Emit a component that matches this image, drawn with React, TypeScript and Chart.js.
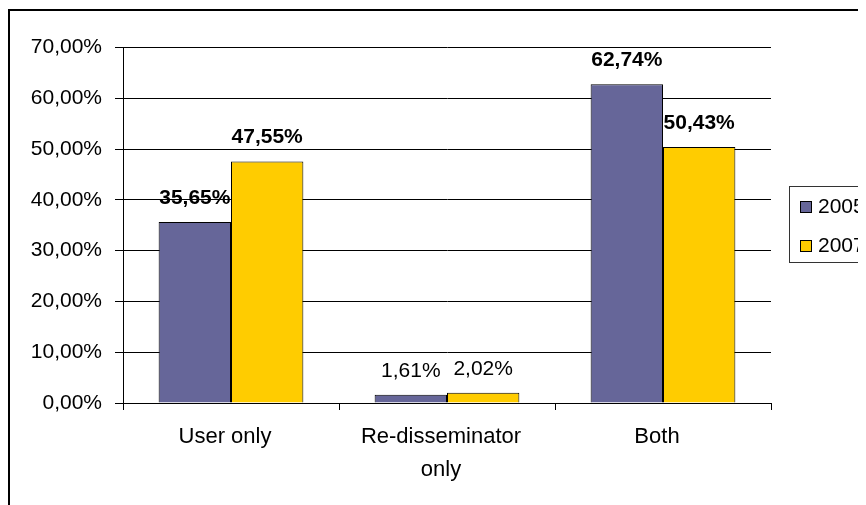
import React, { useEffect, useRef } from 'react';
import { Chart, registerables } from 'chart.js';

Chart.register(...registerables);

// ---- data ----
const categories: (string | string[])[] = ['User only', ['Re-disseminator', 'only'], 'Both'];
const seriesNames = ['2005', '2007'];
const values2005 = [35.65, 1.61, 62.74];
const values2007 = [47.55, 2.02, 50.43];
const yMin = 0;
const yMax = 70;
const yStep = 10;

// ---- style ----
const W = 858;
const H = 497;
const FONT = '"Liberation Sans", Arial, Helvetica, sans-serif';
const colors = ['#666699', '#FFCC00'];

const fmt = (v: number) => v.toFixed(2).replace('.', ',') + '%';

const decor = {
  id: 'decor',
  afterDatasetsDraw(chart: any) {
    const ctx = chart.ctx;
    ctx.save();
    ctx.fillStyle = '#000';
    ctx.textAlign = 'center';
    ctx.textBaseline = 'middle';
    chart.data.datasets.forEach((ds: any, di: number) => {
      const meta = chart.getDatasetMeta(di);
      meta.data.forEach((el: any, i: number) => {
        const v = ds.data[i] as number;
        ctx.font = `${v >= 10 ? 'bold ' : ''}21px ${FONT}`;
        ctx.fillText(fmt(v), el.x, el.y - 24);
      });
    });
    ctx.restore();
  },
  afterDraw(chart: any) {
    const ctx = chart.ctx;
    ctx.save();
    // outer chart border (top & left visible)
    ctx.fillStyle = '#000';
    ctx.fillRect(0, 1, W, 2);
    ctx.fillRect(0, 1, 2, H);
    // legend
    ctx.strokeStyle = '#333';
    ctx.lineWidth = 1;
    ctx.strokeRect(781.5, 178.5, 100, 76);
    ctx.font = `21px ${FONT}`;
    ctx.textAlign = 'left';
    ctx.textBaseline = 'middle';
    chart.data.datasets.forEach((ds: any, di: number) => {
      const sy = 193 + di * 39;
      ctx.fillStyle = ds.backgroundColor;
      ctx.fillRect(792, sy, 12, 12);
      ctx.strokeStyle = '#000';
      ctx.strokeRect(792.5, sy + 0.5, 11, 11);
      ctx.fillStyle = '#000';
      ctx.fillText(ds.label, 810, sy + 6);
    });
    ctx.restore();
  },
};

export default function App() {
  const ref = useRef<HTMLCanvasElement>(null);
  useEffect(() => {
    document.documentElement.style.overflow = 'hidden';
    document.body.style.overflow = 'hidden';
    if (!ref.current) return;
    const chart = new Chart(ref.current, {
      type: 'bar',
      data: {
        labels: categories as any,
        datasets: [
          {
            label: seriesNames[0],
            data: values2005,
            backgroundColor: colors[0],
            borderColor: '#000',
            borderWidth: 1,
          },
          {
            label: seriesNames[1],
            data: values2007,
            backgroundColor: colors[1],
            borderColor: '#000',
            borderWidth: 1,
          },
        ],
      },
      options: {
        responsive: false,
        animation: false,
        devicePixelRatio: 1,
        layout: { padding: { left: 0, right: 95, top: 39.5, bottom: 0 } },
        datasets: { bar: { categoryPercentage: 0.67, barPercentage: 1 } },
        plugins: {
          legend: { display: false },
          tooltip: { enabled: false },
        },
        scales: {
          x: {
            offset: true,
            grid: {
              offset: true,
              drawOnChartArea: false,
              drawTicks: true,
              tickLength: 7,
              color: '#000',
            },
            border: { display: true, color: '#000', width: 1 },
            ticks: {
              color: '#000',
              font: { family: FONT, size: 22, lineHeight: 1.5 },
              padding: 10,
              maxRotation: 0,
              autoSkip: false,
              labelOffset: -6,
            },
            afterFit(scale: any) {
              scale.height = 102;
            },
          },
          y: {
            min: yMin,
            max: yMax,
            grid: {
              color: '#000',
              lineWidth: 1,
              drawTicks: true,
              tickLength: 8,
            },
            border: { display: true, color: '#000', width: 1 },
            ticks: {
              stepSize: yStep,
              color: '#000',
              font: { family: FONT, size: 21 },
              padding: 13,
              callback: (v: any) => fmt(Number(v)),
            },
            afterFit(scale: any) {
              scale.width = 115;
            },
          },
        },
      },
      plugins: [decor],
    });
    return () => chart.destroy();
  }, []);
  return (
    <div style={{ width: W, height: H, background: '#fff', overflow: 'hidden' }}>
      <canvas ref={ref} width={W} height={H} style={{ display: 'block' }} />
    </div>
  );
}
